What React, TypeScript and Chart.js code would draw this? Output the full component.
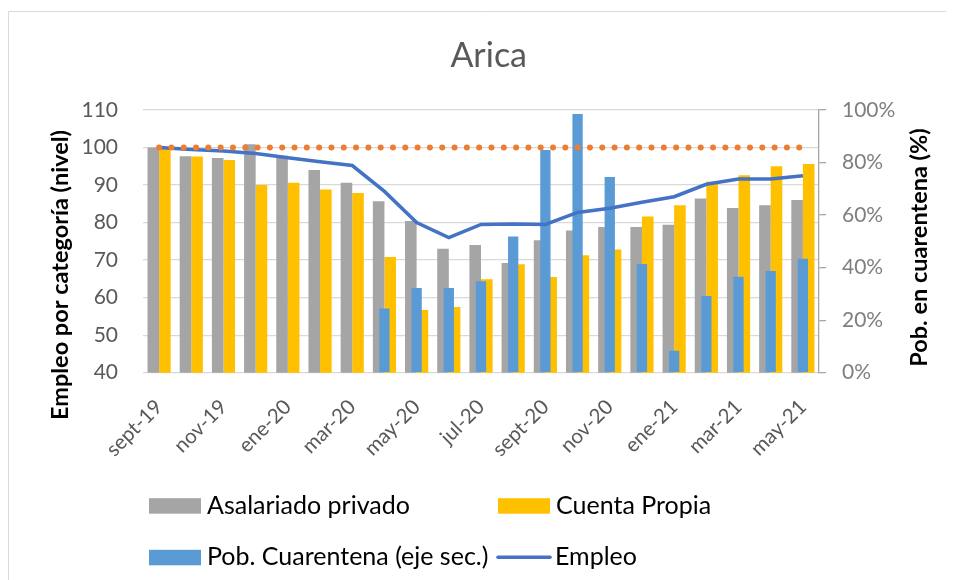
import React, { useEffect, useRef } from 'react';
import { Chart, registerables } from 'chart.js';

Chart.register(...registerables);

const TITLE = 'Arica';
const Y_LEFT_TITLE = 'Empleo por categoría (nivel)';
const Y_RIGHT_TITLE = 'Pob. en cuarentena (%)';

const months = [
  'sept-19', 'oct-19', 'nov-19', 'dic-19', 'ene-20', 'feb-20', 'mar-20', 'abr-20',
  'may-20', 'jun-20', 'jul-20', 'ago-20', 'sept-20', 'oct-20', 'nov-20', 'dic-20',
  'ene-21', 'feb-21', 'mar-21', 'abr-21', 'may-21',
];

const asalariadoPrivado = [100, 97.7, 97.2, 100.9, 97.8, 94.0, 90.6, 85.7, 80.4, 73.0, 74.0, 69.2, 75.3, 77.9, 78.8, 78.8, 79.4, 86.4, 83.9, 84.6, 86.0];
const cuentaPropia = [99.6, 97.6, 96.7, 90.0, 90.6, 88.8, 87.9, 70.8, 56.7, 57.5, 64.9, 68.9, 65.5, 71.3, 72.8, 81.6, 84.6, 90.9, 92.6, 95.0, 95.6];
const pobCuarentena = [null, null, null, null, null, null, null, 24.4, 32.2, 32.2, 34.8, 51.8, 84.8, 98.5, 74.5, 41.4, 8.4, 29.2, 36.5, 38.7, 43.4];
const empleo = [100, 99.5, 99.1, 98.4, 97.3, 96.2, 95.2, 88.3, 80.0, 76.0, 79.5, 79.6, 79.5, 82.7, 83.8, 85.4, 86.9, 90.2, 91.6, 91.6, 92.5];
const referencia = [100, 100, 100, 100, 100, 100, 100, 100, 100, 100, 100, 100, 100, 100, 100, 100, 100, 100, 100, 100, 100];

const LEFT_MIN = 40;
const LEFT_MAX = 110;
const LEFT_STEP = 10;
const RIGHT_MIN = 0;
const RIGHT_MAX = 100;
const RIGHT_STEP = 20;

const FONT = 'Lato, "Open Sans", sans-serif';
const W = 946;
const H = 572;
const AREA = { left: 135, right: 811, top: 102, bottom: 364.7 };

const decorPlugin = {
  id: 'decor',
  afterDraw(chart: any) {
    const { ctx } = chart;
    ctx.save();
    ctx.strokeStyle = '#D9D9D9';
    ctx.lineWidth = 1;
    ctx.beginPath();
    ctx.moveTo(0.5, chart.height);
    ctx.lineTo(0.5, 3.5);
    ctx.lineTo(chart.width, 3.5);
    ctx.stroke();

    ctx.fillStyle = '#595959';
    ctx.font = `34px ${FONT}`;
    ctx.textAlign = 'center';
    ctx.textBaseline = 'alphabetic';
    ctx.fillText(TITLE, 480.7, 58.7);

    ctx.fillStyle = '#000000';
    ctx.font = `bold 23.5px ${FONT}`;
    ctx.save();
    ctx.translate(60, 267);
    ctx.rotate(-Math.PI / 2);
    ctx.fillText(Y_LEFT_TITLE, 0, 0);
    ctx.restore();
    ctx.save();
    ctx.translate(919, 239.5);
    ctx.rotate(-Math.PI / 2);
    ctx.fillText(Y_RIGHT_TITLE, 0, 0);
    ctx.restore();

    const ds = chart.data.datasets;
    const items = [
      { d: ds[0], x: 141, base: 505.7, kind: 'box' },
      { d: ds[1], x: 490, base: 505.7, kind: 'box' },
      { d: ds[2], x: 141, base: 557.3, kind: 'box' },
      { d: ds[3], x: 489, base: 557.3, kind: 'line' },
    ];
    ctx.font = `25px ${FONT}`;
    ctx.textAlign = 'left';
    ctx.textBaseline = 'alphabetic';
    for (const it of items) {
      if (it.kind === 'box') {
        ctx.fillStyle = it.d.backgroundColor;
        ctx.fillRect(it.x, it.base - 15.5, 52, 15.5);
      } else {
        ctx.strokeStyle = it.d.borderColor;
        ctx.lineWidth = 3.5;
        ctx.lineCap = 'round';
        ctx.beginPath();
        ctx.moveTo(it.x + 1, it.base - 8);
        ctx.lineTo(it.x + 53, it.base - 8);
        ctx.stroke();
      }
      ctx.fillStyle = '#000000';
      ctx.fillText(it.d.label, it.x + 58, it.base);
    }
    ctx.restore();
  },
};

export default function App() {
  const ref = useRef<HTMLCanvasElement>(null);

  useEffect(() => {
    if (!ref.current) return;
    const chart = new Chart(ref.current, {
      type: 'bar',
      data: {
        labels: months,
        datasets: [
          {
            type: 'bar',
            label: 'Asalariado privado',
            data: asalariadoPrivado,
            backgroundColor: '#A5A5A5',
            yAxisID: 'y',
            categoryPercentage: 0.72,
            barPercentage: 1.0,
            order: 4,
          },
          {
            type: 'bar',
            label: 'Cuenta Propia',
            data: cuentaPropia,
            backgroundColor: '#FFC000',
            yAxisID: 'y',
            categoryPercentage: 0.72,
            barPercentage: 1.0,
            order: 4,
          },
          {
            type: 'bar',
            label: 'Pob. Cuarentena (eje sec.)',
            data: pobCuarentena,
            backgroundColor: '#5B9BD5',
            yAxisID: 'y1',
            grouped: false,
            barPercentage: 0.4,
            order: 3,
          },
          {
            type: 'line',
            label: 'Empleo',
            data: empleo,
            borderColor: '#4472C4',
            backgroundColor: '#4472C4',
            borderWidth: 3.5,
            pointRadius: 0,
            tension: 0,
            yAxisID: 'y',
            order: 1,
          },
          {
            type: 'line',
            label: 'Referencia',
            data: referencia,
            borderColor: '#ED7D31',
            backgroundColor: '#ED7D31',
            borderWidth: 6,
            borderDash: [0.01, 12.3],
            borderCapStyle: 'round',
            pointRadius: 0,
            tension: 0,
            yAxisID: 'y',
            order: 0,
          },
        ] as any,
      },
      options: {
        responsive: false,
        animation: false,
        events: [],
        layout: { padding: { top: AREA.top, left: 0, right: 0, bottom: 0 } },
        plugins: {
          legend: { display: false },
          title: { display: false },
          tooltip: { enabled: false },
        },
        scales: {
          x: {
            grid: { display: false, drawTicks: false },
            border: { display: false },
            ticks: {
              autoSkip: false,
              minRotation: 45,
              maxRotation: 45,
              padding: 22,
              color: '#595959',
              font: { family: FONT, size: 20.5 },
              callback: (_v: any, i: number) => (i % 2 === 0 ? months[i] : ''),
            },
            afterFit: (s: any) => { s.height = H - AREA.bottom; },
          },
          y: {
            position: 'left',
            min: LEFT_MIN,
            max: LEFT_MAX,
            grid: { color: '#D9D9D9', lineWidth: 1.3, drawTicks: false },
            border: { display: false },
            ticks: {
              stepSize: LEFT_STEP,
              padding: 25,
              color: '#595959',
              font: { family: FONT, size: 21 },
            },
            afterFit: (s: any) => { s.width = AREA.left; },
          },
          y1: {
            position: 'right',
            min: RIGHT_MIN,
            max: RIGHT_MAX,
            grid: { drawOnChartArea: false, drawTicks: true, tickLength: 7, color: '#A6A6A6', lineWidth: 1.3 },
            border: { display: true, color: '#A6A6A6', width: 1.3 },
            ticks: {
              stepSize: RIGHT_STEP,
              padding: 16,
              color: '#7F7F7F',
              font: { family: FONT, size: 21 },
              callback: (v: any) => `${v}%`,
            },
            afterFit: (s: any) => { s.width = W - AREA.right; },
          },
        },
      } as any,
      plugins: [decorPlugin],
    });
    return () => chart.destroy();
  }, []);

  return (
    <div style={{ width: W, height: H }}>
      <canvas ref={ref} width={W} height={H} />
    </div>
  );
}
